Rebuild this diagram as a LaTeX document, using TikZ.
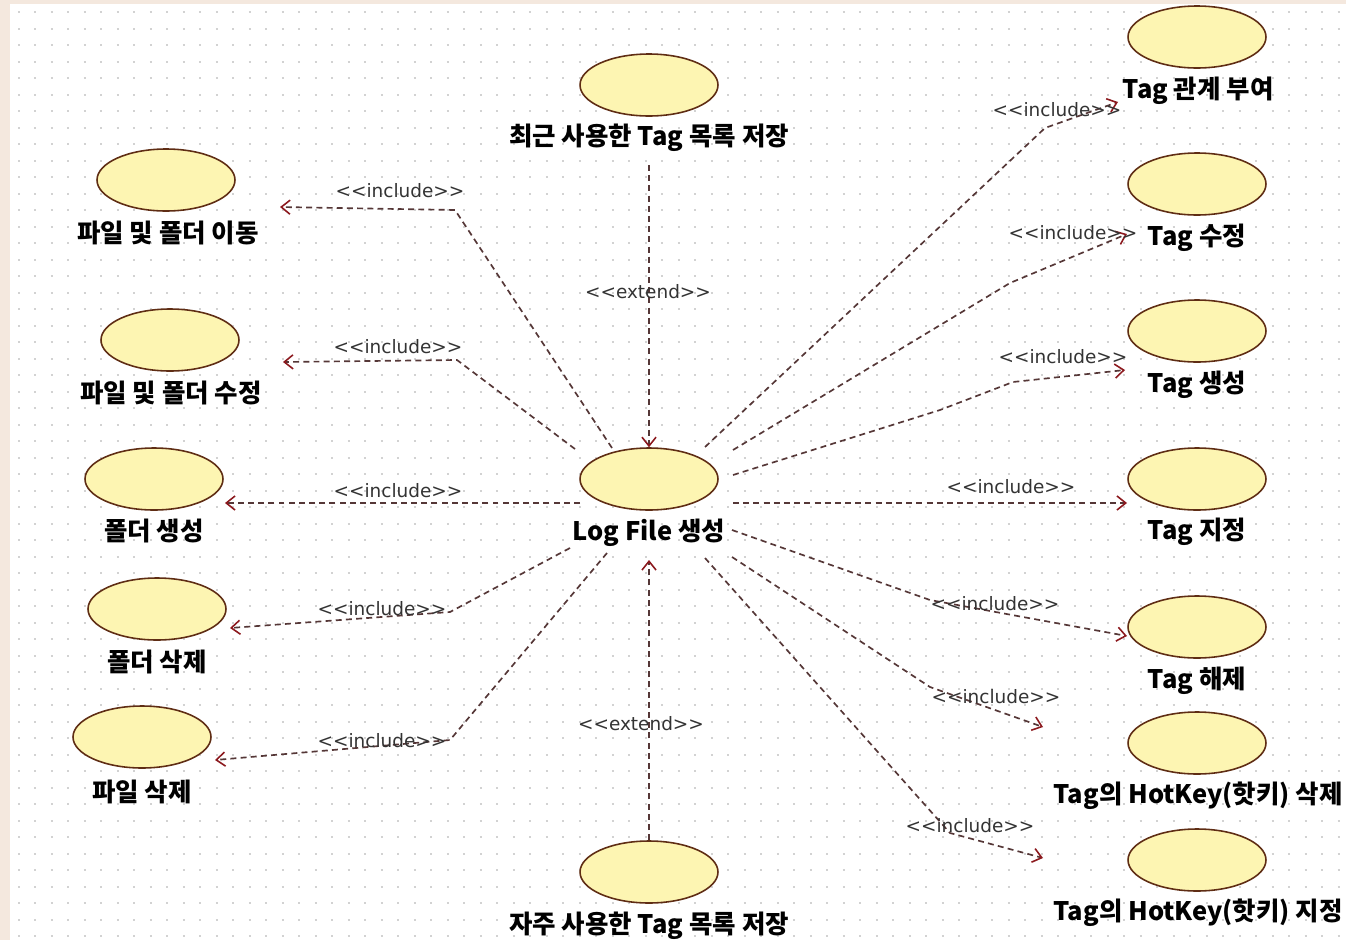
\documentclass[tikz,border=0pt]{standalone}
\usepackage{fontspec}
\setmainfont{Noto Sans CJK KR}
\newfontfamily\relfont{DejaVu Sans}
\usetikzlibrary{shapes.geometric,arrows.meta,calc}
\definecolor{ucfill}{RGB}{253,245,178}
\definecolor{ucdraw}{RGB}{95,45,20}
\definecolor{lnc}{RGB}{85,55,55}
\definecolor{tipc}{RGB}{140,25,30}
\definecolor{dotc}{RGB}{210,210,210}
\definecolor{edgec}{RGB}{244,232,222}
\newcommand{\inc}{<{}<include>{}>}
\newcommand{\ext}{<{}<extend>{}>}
\begin{document}
\begin{tikzpicture}[x={(0.02cm,0cm)},y={(0cm,-0.02cm)},
  uc/.style={ellipse,draw=ucdraw,line width=0.9pt,fill=ucfill,minimum width=2.76cm,minimum height=1.24cm,inner sep=0pt},
  ucl/.style={font=\fontsize{14.5}{16}\selectfont\bfseries,inner sep=0pt},
  rel/.style={font=\relfont\fontsize{10.5}{12}\selectfont,text=black!80,inner sep=1pt},
  dep/.style={draw=lnc,line width=0.95pt,dash pattern=on 3.4pt off 2.4pt,
    -{Straight Barb[length=5pt,width=8pt,line width=0.9pt,color=tipc]}}
]
\useasboundingbox (0,0) rectangle (1346,940);
\fill[white] (0,0) rectangle (1346,940);
\fill[edgec] (0,0) rectangle (10,940);
\fill[edgec] (0,0) rectangle (1346,4);
\foreach \j in {0,...,56}{
  \draw[dotc,line width=0.04cm,dash pattern=on 0.04cm off 0.29cm] (18,{12+16.5*\j}) -- (1346,{12+16.5*\j});
}
% use cases
\node[uc] (top) at (649,85) {};
\node[ucl] (topL) at (649,138) {최근 사용한 Tag 목록 저장};
\node[uc] (log) at (649,479) {};
\node[ucl] (logL) at (649,533) {Log File 생성};
\node[uc] (bot) at (649,872) {};
\node[ucl] (botL) at (649,926) {자주 사용한 Tag 목록 저장};
\node[uc] (mv) at (166,180) {};
\node[ucl] (mvL) at (168,233) {파일 및 폴더 이동};
\node[uc] (ed) at (170,340) {};
\node[ucl] (edL) at (171,393) {파일 및 폴더 수정};
\node[uc] (fc) at (154,479) {};
\node[ucl] (fcL) at (154,531) {폴더 생성};
\node[uc] (fd) at (157,609) {};
\node[ucl] (fdL) at (157,662) {폴더 삭제};
\node[uc] (pd) at (142,737) {};
\node[ucl] (pdL) at (142,792) {파일 삭제};
\node[uc] (tr) at (1197,37) {};
\node[ucl] (trL) at (1198,91) {Tag 관계 부여};
\node[uc] (tm) at (1197,184) {};
\node[ucl] (tmL) at (1197,238) {Tag 수정};
\node[uc] (tc) at (1197,331) {};
\node[ucl] (tcL) at (1197,385) {Tag 생성};
\node[uc] (ta) at (1197,479) {};
\node[ucl] (taL) at (1197,532) {Tag 지정};
\node[uc] (tu) at (1197,627) {};
\node[ucl] (tuL) at (1197,681) {Tag 해제};
\node[uc] (hd) at (1197,743) {};
\node[ucl] (hdL) at (1198,796) {Tag의 HotKey(핫키) 삭제};
\node[uc] (ha) at (1197,860) {};
\node[ucl] (haL) at (1198,913) {Tag의 HotKey(핫키) 지정};
% bend points and free ends
\coordinate (b1) at (455,210); \coordinate (e1) at (280,207);
\coordinate (b2) at (457,360); \coordinate (e2) at (283,362);
\coordinate (e3) at (225,503);
\coordinate (b4) at (450,612); \coordinate (e4) at (230,628);
\coordinate (b5) at (450,740); \coordinate (e5) at (215,760);
\coordinate (b6) at (1045,128); \coordinate (e6) at (1118,102);
\coordinate (b7) at (1010,283); \coordinate (e7) at (1127,234);
\coordinate (b8a) at (940,410); \coordinate (b8b) at (1013,382); \coordinate (e8) at (1125,370);
\coordinate (e9) at (1127,503);
\coordinate (b10) at (930,600); \coordinate (e10) at (1127,636);
\coordinate (b11) at (930,687); \coordinate (e11) at (1043,727);
\coordinate (b12) at (950,833); \coordinate (e12) at (1043,858);
% connectors
\draw[dep] ($(log)+(-37,-31)$) -- (b1) -- (e1);
\draw[dep] ($(log)+(-74,-30)$) -- (b2) -- (e2);
\draw[dep] ($(log)+(-69,24)$) -- (e3);
\draw[dep] ($(log)+(-79,69)$) -- (b4) -- (e4);
\draw[dep] ($(log)+(-42,74)$) -- (b5) -- (e5);
\draw[dep] ($(top)+(0,80)$) -- (log.north);
\draw[dep] (bot.north) -- ($(log)+(0,81)$);
\draw[dep] ($(log)+(56,-32)$) -- (b6) -- (e6);
\draw[dep] ($(log)+(84,-29)$) -- (b7) -- (e7);
\draw[dep] ($(log)+(84,-4)$) -- (b8a) -- (b8b) -- (e8);
\draw[dep] ($(log)+(84,24)$) -- (e9);
\draw[dep] ($(log)+(83,51)$) -- (b10) -- (e10);
\draw[dep] ($(log)+(83,78)$) -- (b11) -- (e11);
\draw[dep] ($(log)+(56,79)$) -- (b12) -- (e12);
% labels
\node[rel] (r1) at (400,191) {\inc};
\node[rel] (r2) at (398,347) {\inc};
\node[rel] (r3) at (398,491) {\inc};
\node[rel] (r4) at (382,609) {\inc};
\node[rel] (r5) at (382,741) {\inc};
\node[rel] (r6) at (648,292) {\ext};
\node[rel] (r7) at (641,724) {\ext};
\node[rel] (r8) at (1057,110) {\inc};
\node[rel] (r9) at (1073,233) {\inc};
\node[rel] (r10) at (1063,357) {\inc};
\node[rel] (r11) at (1011,487) {\inc};
\node[rel] (r12) at (995,604) {\inc};
\node[rel] (r13) at (996,697) {\inc};
\node[rel] (r14) at (970,826) {\inc};
\end{tikzpicture}
\end{document}
